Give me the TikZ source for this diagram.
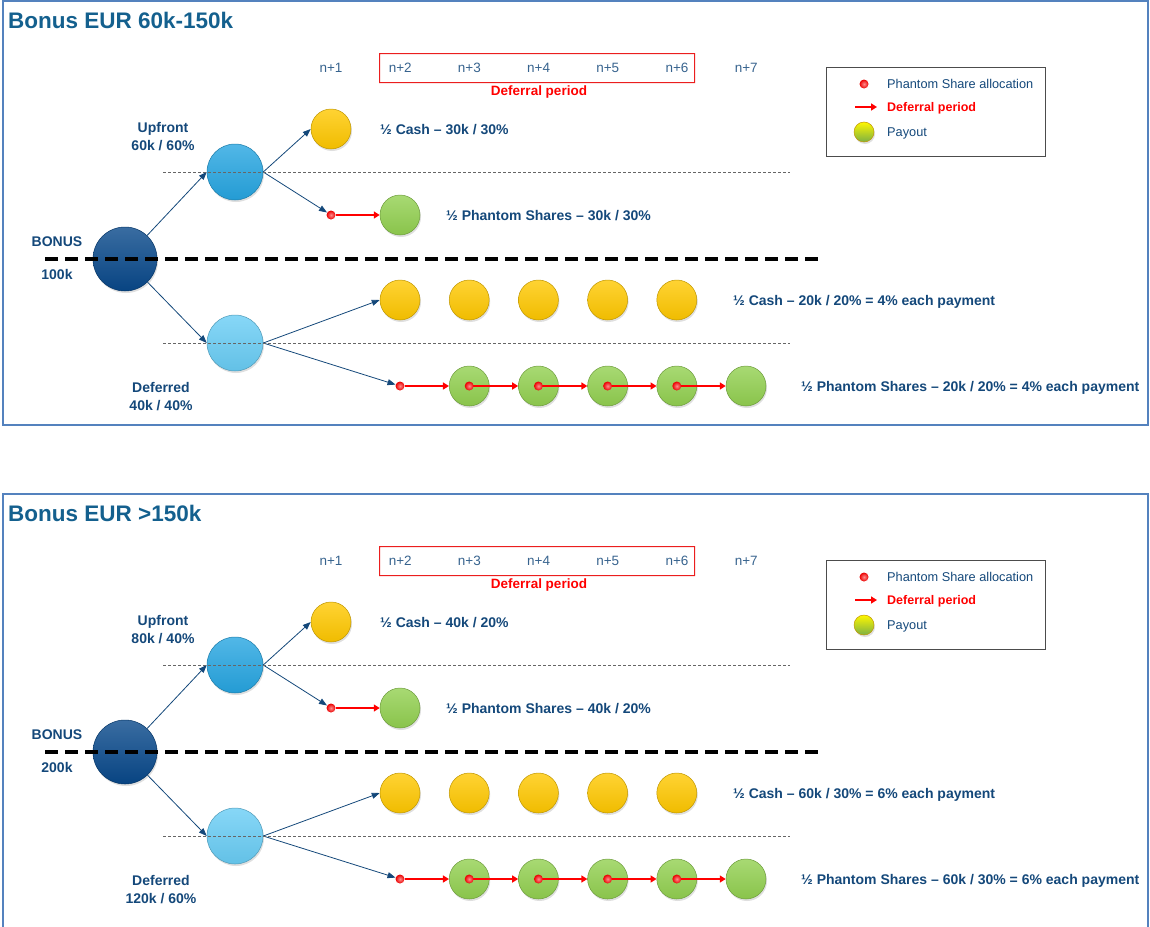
\documentclass[tikz,border=0pt]{standalone}
\usepackage{fontspec}
\setmainfont{Liberation Sans}
\usetikzlibrary{positioning, arrows.meta, shadows}
\definecolor{ink}{RGB}{20,72,122}
\definecolor{titleblue}{RGB}{20,96,142}
\definecolor{framecol}{RGB}{84,130,190}
\definecolor{bonusblue}{RGB}{8,72,138}
\definecolor{upblue}{RGB}{38,165,225}
\definecolor{downblue}{RGB}{105,205,245}
\definecolor{cashgold}{RGB}{255,200,0}
\definecolor{shareleaf}{RGB}{146,208,80}
\definecolor{boxred}{RGB}{235,30,30}

\begin{document}
\begin{tikzpicture}[x=1pt, y=-1pt,
  coin/.style = {circle, inner sep=0, minimum size=40pt, draw=#1!75!black, line width=0.5pt, top color=#1!80!white, bottom color=#1!94!black, drop shadow={opacity=0.25, shadow xshift=1pt, shadow yshift=-2pt}},
  dot/.style = {circle, inner sep=0, minimum size=9pt, inner color=red!45!white, outer color=red!92!black},
  link/.style = {draw=ink, line width=0.8pt, -{Triangle[length=8pt, width=6pt]}},
  defer/.style = {draw=red, line width=2pt, -{Triangle[length=6pt, width=7pt]}},
  guide/.style = {draw=black!60, line width=0.8pt, dash pattern=on 3pt off 2pt},
  split/.style = {draw=black, line width=3.5pt, dash pattern=on 13pt off 7pt},
  lbl/.style = {text=ink, font=\bfseries\fontsize{14}{18}\selectfont, inner sep=0},
  row/.style = {lbl, anchor=west, text height=10pt, text depth=0pt},
  ttl/.style = {text=titleblue, font=\bfseries\fontsize{22.5}{26}\selectfont, inner sep=0, anchor=west},
  period/.style = {text=ink!85, font=\fontsize{13.5}{16}\selectfont, inner sep=0},
  key/.style = {text=ink, font=\fontsize{12.75}{15}\selectfont, inner sep=0, anchor=west, text height=9pt, text depth=0pt}]

\path[use as bounding box, clip] (0,0) rectangle (1150,926);

\foreach \py/\ph/\ptitle/\ptotal/\pup/\pdn/\pva/\pvb in {
  0/425/{Bonus EUR 60k-150k}/100k/{60k / 60\%}/{40k / 40\%}/{30k / 30\%}/{20k / 20\% = 4\% each payment},
  493/445/{Bonus EUR >150k}/200k/{80k / 40\%}/{120k / 60\%}/{40k / 20\%}/{60k / 30\% = 6\% each payment}} {
\begin{scope}[shift={(0,\py)}]
  % frame and title
  \draw[draw=framecol, line width=1.5pt] (3,1) rectangle (1148,\ph);
  \node[ttl] (title) at (8,20) {\ptitle};

  % years
  \foreach \k in {1,...,7}
    \node[period] (n\k) at ({331+69.2*(\k-1)},68) {n+\k};
  \node[text=red, font=\bfseries\fontsize{13.5}{16}\selectfont] (dp) at (539,92) {Deferral period};

  % tree
  \node[coin=bonusblue, minimum size=64pt] (bonus) at (125,259) {};
  \node[coin=upblue, minimum size=56pt] (up) at (235,172) {};
  \node[coin=downblue, minimum size=56pt] (dn) at (235,343) {};
  \node[lbl] (bl) at (57,242) {BONUS};
  \node[lbl] (bt) at (57,274) {\ptotal};
  \node[lbl, align=center] (ul) at (163,137) {Upfront\\\pup};
  \node[lbl, align=center] (dl) at (161,397) {Deferred\\\pdn};

  % upfront payouts
  \node[coin=cashgold] (cash) at (331,129) {};
  \node[coin=shareleaf] (ps) at (400,215) {};
  \node[dot] (a0) at (331,215) {};
  \node[row] (cashl) at (380,129) {½ Cash – \pva};
  \node[row] (psl) at (446,215) {½ Phantom Shares – \pva};

  % deferred payouts
  \foreach \i in {1,...,5} {
    \node[coin=cashgold] (c\i) at ({400+69.2*(\i-1)},300) {};
    \node[coin=shareleaf] (g\i) at ({469.2+69.2*(\i-1)},386) {};
  }
  \node[dot] (b0) at (400,386) {};
  \node[row] (cbl) at (733,300) {½ Cash – \pvb};
  \node[row] (pbl) at (801,386) {½ Phantom Shares – \pvb};

  % connectors
  \draw[link] (bonus) -- (up.west);
  \draw[link] (bonus) -- (dn.west);
  \draw[link] (up.east) -- (cash.west);
  \draw[link] (up.east) -- (a0);
  \draw[link] (dn.east) -- (c1.west);
  \draw[link] (dn.east) -- (b0);
  \draw[defer] (a0) -- (ps.west);
  \draw[defer] (b0) -- (g1.west);
  \foreach \i [evaluate=\i as \j using int(\i+1)] in {1,...,4}
    \draw[defer] (g\i.center) -- (g\j.west);
  \foreach \i in {1,...,4}
    \node[dot] (b\i) at (g\i) {};

  % dividers
  \draw[guide] (163,172) -- (790,172);
  \draw[guide] (163,343) -- (790,343);
  \draw[split] (45,259) -- (820,259);

  % legend
  \draw[draw=black!70, line width=1pt] (826,67) rectangle (1045,156);
  \node[dot] (kdot) at (864,84) {};
  \node[key] (kdott) at (887,84) {Phantom Share allocation};
  \coordinate (ka) at (855,107);
  \coordinate (kb) at (877,107);
  \draw[defer] (ka) -- (kb);
  \node[key, text=red, font=\bfseries\fontsize{12.5}{15}\selectfont] (kdef) at (887,107) {Deferral period};
  \node[coin=cashgold, minimum size=20pt, top color=yellow!85!cashgold, bottom color=shareleaf!85!black] (kpay) at (864,132) {};
  \node[key] (kpayt) at (887,132) {Payout};

  % deferral window
  \fill[boxred, even odd rule] (379,53) rectangle (695,83) (380,54) rectangle (694,82);
\end{scope}
}
\end{tikzpicture}
\end{document}
